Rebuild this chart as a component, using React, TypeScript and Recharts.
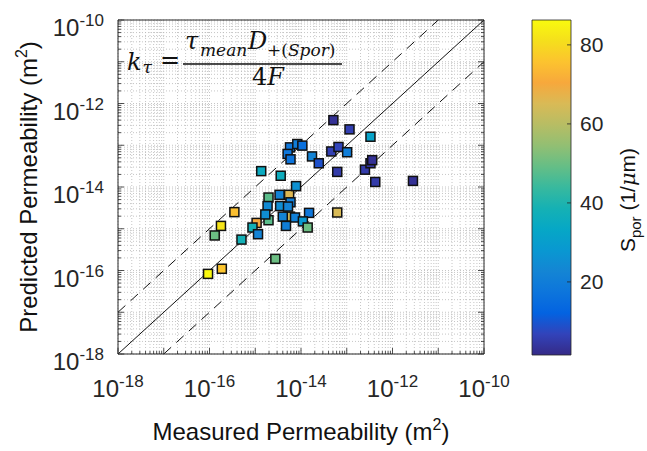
import React from 'react';
import { ScatterChart, Scatter, XAxis, YAxis, CartesianGrid, ReferenceLine, ReferenceArea } from 'recharts';

// measured vs predicted permeability (m^2), colour = S_por (1/um)
const measured = [
  5.5e-15, 5.75e-15, 1.07e-15, 1.95e-15, 1.95e-15,
  5.1e-14, 1.15e-13, 3.3e-13, 5.75e-15, 8.3e-15, 1.07e-14, 5.1e-15, 5.9e-15,
  1.74e-14, 2.45e-14, 4.6e-14, 6.6e-14, 1.02e-13, 6.2e-14, 2.5e-13, 3.3e-13,
  3.6e-13, 4.2e-13, 2.8e-12, 1.35e-15, 3.6e-15, 7.8e-15, 3.4e-15, 1.86e-15,
  5.9e-15, 3.5e-15, 5.2e-15, 1.66e-15, 1.5e-14, 4.0e-15, 7.4e-15, 1.1e-14,
  4.7e-15, 1.4e-14, 6.2e-14, 8.7e-16, 1.15e-15, 5.0e-16, 3.5e-16, 1.78e-16,
  1.3e-16, 2.75e-15, 9.3e-17, 1.86e-16,
];
const predicted = [
  6.5e-15, 1.95e-15, 1.38e-15, 1.6e-15, 5.6e-15,
  4.0e-13, 2.4e-13, 1.6e-13, 8.9e-14, 1.07e-13, 9.8e-14, 6.2e-14, 4.6e-14,
  5.4e-14, 3.7e-14, 7.1e-14, 9.1e-14, 6.8e-14, 2.3e-14, 2.6e-14, 3.7e-14,
  4.4e-14, 1.32e-14, 1.4e-14, 2.4e-14, 1.86e-14, 1.05e-14, 6.5e-15, 3.5e-15,
  4.3e-15, 3.5e-15, 3.4e-15, 2.2e-15, 2.4e-15, 1.95e-15, 1.86e-15, 1.5e-15,
  1.17e-15, 1.07e-15, 2.45e-15, 1.07e-15, 7.4e-16, 5.5e-16, 2.5e-15, 1.17e-15,
  6.9e-16, 1.9e-16, 8.3e-17, 1.1e-16,
];
const spor = [
  66, 64, 70, 48, 48,
  3, 6, 32, 18, 20, 16, 18, 17,
  22, 9, 6, 7, 20, 5, 5, 4,
  3, 5, 3, 35, 36, 26, 22, 24,
  20, 25, 22, 25, 18, 22, 21, 28,
  20, 50, 65, 38, 22, 38, 75, 82,
  50, 50, 86, 76,
];

const decades = [-18, -17, -16, -15, -14, -13, -12, -11, -10];
const labelledExponents = [-18, -16, -14, -12, -10];
const colorTicks = [20, 40, 60, 80];
const colorRange = [1.5, 86.3];

// parula-like map, 17 stops
const parulaStops = [
  '#352a87', '#3243ba', '#0363e1', '#0d75dc', '#1485d4', '#0998d1', '#06a7c6', '#15b1b4',
  '#38b99e', '#65be86', '#92bf73', '#b7bd64', '#d9ba56', '#f7a83c', '#fcc32f', '#f5df1c', '#f9fa0e',
];

const hexToRgb = (h: string) => [1, 3, 5].map((i) => parseInt(h.slice(i, i + 2), 16));

const parula = (s: number) => {
  const t = Math.min(1, Math.max(0, (s - colorRange[0]) / (colorRange[1] - colorRange[0])));
  const p = t * (parulaStops.length - 1);
  const i = Math.min(parulaStops.length - 2, Math.floor(p));
  const f = p - i;
  const a = hexToRgb(parulaStops[i]);
  const b = hexToRgb(parulaStops[i + 1]);
  const c = a.map((v, k) => Math.round(v + (b[k] - v) * f));
  return `rgb(${c[0]},${c[1]},${c[2]})`;
};

const points = measured.map((x, i) => ({ x, y: predicted[i], s: spor[i] }));
const barEnds = [{ x: 0, y: colorRange[0] }, { x: 1, y: colorRange[1] }];

const gridTicks: number[] = [];
decades.slice(0, -1).forEach((d) => {
  for (let k = 1; k <= 9; k++) gridTicks.push(k * Math.pow(10, d));
});
gridTicks.push(Math.pow(10, decades[decades.length - 1]));

const lo = Math.pow(10, decades[0]);
const hi = Math.pow(10, decades[decades.length - 1]);

const FONT = '"Liberation Sans", Arial, sans-serif';
const INK = '#262626';

const tickInfo = (v: number) => {
  const e = Math.log10(v);
  const exp = Math.round(e);
  return { exp, major: Math.abs(e - exp) < 1e-6 };
};

const xTick = (side: 'bottom' | 'top') => (props: any) => {
  const { x, y, payload } = props;
  const { exp, major } = tickInfo(payload.value);
  const len = major ? 6 : 3;
  const dir = side === 'bottom' ? -1 : 1;
  const label = side === 'bottom' && major && labelledExponents.includes(exp);
  return (
    <g>
      <line x1={x} x2={x} y1={y} y2={y + dir * len} stroke={INK} strokeWidth={0.8} />
      {label && (
        <text x={x} y={y + 43} textAnchor="middle" fontSize={24} fontFamily={FONT} fill={INK}>
          10<tspan dy={-10} fontSize={17}>{exp}</tspan>
        </text>
      )}
    </g>
  );
};

const yTick = (side: 'left' | 'right') => (props: any) => {
  const { x, y, payload } = props;
  const { exp, major } = tickInfo(payload.value);
  const len = major ? 6 : 3;
  const dir = side === 'left' ? 1 : -1;
  const label = side === 'left' && major && labelledExponents.includes(exp);
  return (
    <g>
      <line x1={x} x2={x + dir * len} y1={y} y2={y} stroke={INK} strokeWidth={0.8} />
      {label && (
        <text x={x - 14} y={y + 16} textAnchor="end" fontSize={24} fontFamily={FONT} fill={INK}>
          10<tspan dy={-10} fontSize={17}>{exp}</tspan>
        </text>
      )}
    </g>
  );
};

const colorTick = (props: any) => {
  const { x, y, payload } = props;
  return (
    <g>
      <line x1={x} x2={x - 4} y1={y} y2={y} stroke={INK} strokeWidth={0.8} />
      <text x={x + 9} y={y + 7.5} fontSize={21} fontFamily={FONT} fill={INK}>{payload.value}</text>
    </g>
  );
};

const square = (props: any) => {
  const { cx, cy, payload } = props;
  return <rect x={cx - 4.5} y={cy - 4.5} width={9} height={9} fill={parula(payload.s)} stroke="#111" strokeWidth={1.5} />;
};

const nothing = () => <g />;

const App = () => {
  return (
    <div style={{ position: 'absolute', left: 0, top: 0, width: 647, height: 451, background: '#fff', overflow: 'hidden' }}>
      <svg width={0} height={0} style={{ position: 'absolute' }}>
        <defs>
          <linearGradient id="parulaGrad" x1="0" y1="1" x2="0" y2="0">
            {parulaStops.map((c, i) => (
              <stop key={i} offset={i / (parulaStops.length - 1)} stopColor={c} />
            ))}
          </linearGradient>
        </defs>
      </svg>

      <div style={{ position: 'absolute', left: 0, top: 0 }}>
        <ScatterChart width={647} height={451} margin={{ top: 19, right: 162, bottom: 96, left: 117 }}>
          <CartesianGrid stroke="#b8b8b8" strokeDasharray="1 2" strokeWidth={0.8} />
          <XAxis dataKey="x" type="number" scale="log" domain={[lo, hi]} ticks={gridTicks} interval={0}
            height={1} tickSize={0} tickMargin={0} tickLine={false} axisLine={{ stroke: INK }} tick={xTick('bottom')} allowDataOverflow />
          <XAxis xAxisId="top" orientation="top" type="number" scale="log" domain={[lo, hi]} ticks={gridTicks} interval={0}
            height={1} tickSize={0} tickMargin={0} tickLine={false} axisLine={{ stroke: INK }} tick={xTick('top')} allowDataOverflow />
          <YAxis dataKey="y" type="number" scale="log" domain={[lo, hi]} ticks={gridTicks} interval={0}
            width={1} tickSize={0} tickMargin={0} tickLine={false} axisLine={{ stroke: INK }} tick={yTick('left')} allowDataOverflow />
          <YAxis yAxisId="right" orientation="right" type="number" scale="log" domain={[lo, hi]} ticks={gridTicks} interval={0}
            width={1} tickSize={0} tickMargin={0} tickLine={false} axisLine={{ stroke: INK }} tick={yTick('right')} allowDataOverflow />
          <ReferenceLine segment={[{ x: lo, y: lo }, { x: hi, y: hi }]} stroke="#111" strokeWidth={1} />
          <ReferenceLine segment={[{ x: lo, y: lo * 10 }, { x: hi / 10, y: hi }]} stroke="#111" strokeWidth={1} strokeDasharray="10 7" />
          <ReferenceLine segment={[{ x: lo * 10, y: lo }, { x: hi, y: hi / 10 }]} stroke="#111" strokeWidth={1} strokeDasharray="10 7" />
          <Scatter data={points} shape={square} isAnimationActive={false} />
        </ScatterChart>
      </div>

      <div style={{ position: 'absolute', left: 0, top: 0 }}>
        <ScatterChart width={647} height={451} margin={{ top: 20, right: 75, bottom: 96, left: 532 }}>
          <XAxis type="number" dataKey="x" domain={[0, 1]} hide />
          <YAxis type="number" dataKey="y" orientation="right" domain={colorRange} ticks={colorTicks} interval={0}
            width={1} tickSize={0} tickMargin={0} tickLine={false} axisLine={false} tick={colorTick} allowDataOverflow />
          <ReferenceArea x1={0} x2={1} y1={colorRange[0]} y2={colorRange[1]} fill="url(#parulaGrad)" fillOpacity={1}
            stroke={INK} strokeWidth={0.8} ifOverflow="visible" />
          <Scatter data={barEnds} shape={nothing} isAnimationActive={false} />
        </ScatterChart>
      </div>

      <svg width={647} height={451} style={{ position: 'absolute', left: 0, top: 0, pointerEvents: 'none' }}>
        <g fontFamily={FONT} fill="#111">
          <text x={301} y={440} textAnchor="middle" fontSize={24}>
            Measured Permeability (m<tspan dy={-10} fontSize={16}>2</tspan><tspan dy={10}>)</tspan>
          </text>
          <text x={37} y={187} textAnchor="middle" fontSize={24} transform="rotate(-90 37 187)">
            Predicted Permeability (m<tspan dy={-10} fontSize={16}>2</tspan><tspan dy={10}>)</tspan>
          </text>
          <text x={635} y={200} textAnchor="middle" fontSize={21} transform="rotate(-90 635 200)">
            S<tspan dy={6} fontSize={15}>por</tspan><tspan dy={-6}> (1/</tspan>
            <tspan fontFamily='"DejaVu Serif", serif' fontStyle="italic">μ</tspan>
            <tspan>m)</tspan>
          </text>
        </g>
        <g fontFamily='"DejaVu Serif", serif' fill="#111">
          <text x={127} y={70} fontSize={24} fontStyle="italic">k</text>
          <text x={142.5} y={73} fontSize={17} fontStyle="italic">τ</text>
          <text x={160} y={68} fontSize={24}>=</text>
          <line x1={183} x2={342} y1={64} y2={64} stroke="#111" strokeWidth={1.3} />
          <text x={185} y={49} fontSize={24} fontStyle="italic">τ</text>
          <text x={200} y={56} fontSize={17} fontStyle="italic">mean</text>
          <text x={248} y={49} fontSize={24} fontStyle="italic">D</text>
          <text x={267} y={56} fontSize={17}>
            +(<tspan fontStyle="italic">Spor</tspan>)
          </text>
          <text x={252} y={85} fontSize={24}>
            4<tspan fontStyle="italic">F</tspan>
          </text>
        </g>
      </svg>
    </div>
  );
};

export default App;
